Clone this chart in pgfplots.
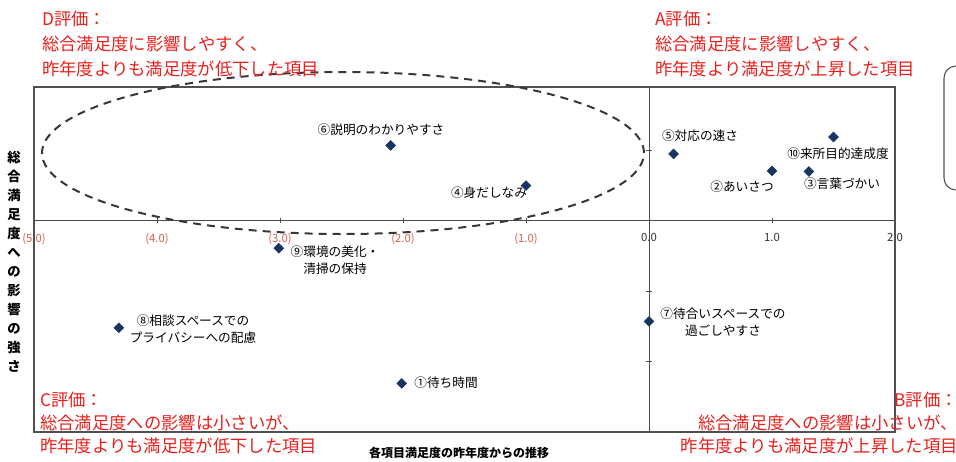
\documentclass[border=0pt]{standalone}
\usepackage{fontspec}
\setmainfont{Noto Sans CJK JP}
\usepackage{pgfplots}
\pgfplotsset{compat=1.18}

\definecolor{evalred}{RGB}{232,32,28}
\definecolor{tickred}{RGB}{214,96,80}
\definecolor{marknavy}{RGB}{24,52,96}
\definecolor{framegray}{RGB}{80,80,80}
\definecolor{ringgray}{RGB}{55,55,55}

% 各項目: 昨年度からの推移 (x), 総合満足度への影響の強さ (y)
\pgfplotstableread{
x      y
-2.10  0.107
-1.00  0.050
 0.20  0.095
 1.50  0.119
 1.00  0.071
 1.30  0.070
-3.01 -0.039
-4.31 -0.152
-2.01 -0.231
 0.00 -0.143
}\items

\begin{document}
\begin{tikzpicture}
\begin{axis}[
  at={(25.5pt,-324pt)}, anchor=south west,
  scale only axis, width=645.75pt, height=258.75pt,
  xmin=-5, xmax=2, ymin=-0.30, ymax=0.19,
  axis lines=middle,
  axis line style={-, draw=gray!60!black, line width=0.5pt},
  xtick={-5,-4,-3,-2,-1,1,2},
  xticklabels={\textcolor{tickred}{(5.0)},\textcolor{tickred}{(4.0)},\textcolor{tickred}{(3.0)},\textcolor{tickred}{(2.0)},\textcolor{tickred}{(1.0)},1.0,2.0},
  extra x ticks={0}, extra x tick labels={0.0},
  ytick={-0.3,-0.2,-0.1,0.1}, yticklabels={},
  tick style={gray!60!black, line width=0.5pt},
  major tick length=4pt,
  xticklabel style={font=\fontsize{8.5}{9}\selectfont, yshift=-3.5pt, text=black!80},
  clip=false,
]
\draw[framegray, line width=1pt] (rel axis cs:0,0) rectangle (rel axis cs:1,1);
\addplot[only marks, mark=square*, mark size=2.6pt,
  mark options={rotate=45, fill=marknavy, draw=marknavy}] table {\items};
\end{axis}

\begin{scope}[x=0.75pt, y=-0.75pt]
  % グループの囲み
  \draw[ringgray, line width=1.5pt, dash pattern=on 6pt off 4.5pt]
    (343,153) ellipse [x radius=225.75pt, y radius=60.75pt];

  % 項目名
  \begin{scope}[every node/.style={font=\fontsize{9.5}{12.75}\selectfont, inner sep=0pt, align=center}]
    \node at (381,130) {⑥説明のわかりやすさ};
    \node at (489,193) {④身だしなみ};
    \node at (700,136) {⑤対応の速さ};
    \node at (838,154) {⑩来所目的達成度};
    \node at (742,187) {②あいさつ};
    \node at (842,184) {③言葉づかい};
    \node at (335,260) {⑨環境の美化・\\清掃の保持};
    \node at (193,329) {⑧相談スペースでの\\プライバシーへの配慮};
    \node at (446,383) {①待ち時間};
    \node at (723,322) {⑦待合いスペースでの\\過ごしやすさ};
  \end{scope}

  % 軸の見出し
  \node[font=\bfseries\fontsize{10}{14.25}\selectfont, align=center, inner sep=0pt]
    at (14,262) {総\\合\\満\\足\\度\\へ\\の\\影\\響\\の\\強\\さ};
  \node[font=\bfseries\fontsize{9}{11}\selectfont, inner sep=0pt] at (459,453)
    {各項目満足度の昨年度からの推移};

  % 評価区分
  \begin{scope}[every node/.style={text=evalred, inner sep=0pt}]
    \node[anchor=west, align=left, font=\fontsize{13}{18.75}\selectfont] at (42,43.5)
      {D評価：\\総合満足度に影響しやすく、\\昨年度よりも満足度が低下した項目};
    \node[anchor=west, align=left, font=\fontsize{13}{18.75}\selectfont] at (655,43.5)
      {A評価：\\総合満足度に影響しやすく、\\昨年度より満足度が上昇した項目};
    \node[anchor=west, align=left, font=\fontsize{13}{17}\selectfont] at (40,423)
      {C評価：\\総合満足度への影響は小さいが、\\昨年度よりも満足度が低下した項目};
    \node[anchor=east, align=right, font=\fontsize{13}{17}\selectfont] at (958,423)
      {B評価：\\総合満足度への影響は小さいが、\\昨年度よりも満足度が上昇した項目};
  \end{scope}

  % 右側の枠
  \draw[framegray, line width=0.8pt, rounded corners=9pt] (944,66) rectangle (1010,190);
\end{scope}

\pgfresetboundingbox
\useasboundingbox (0,0) rectangle (717pt,-345.75pt);
\end{tikzpicture}
\end{document}
